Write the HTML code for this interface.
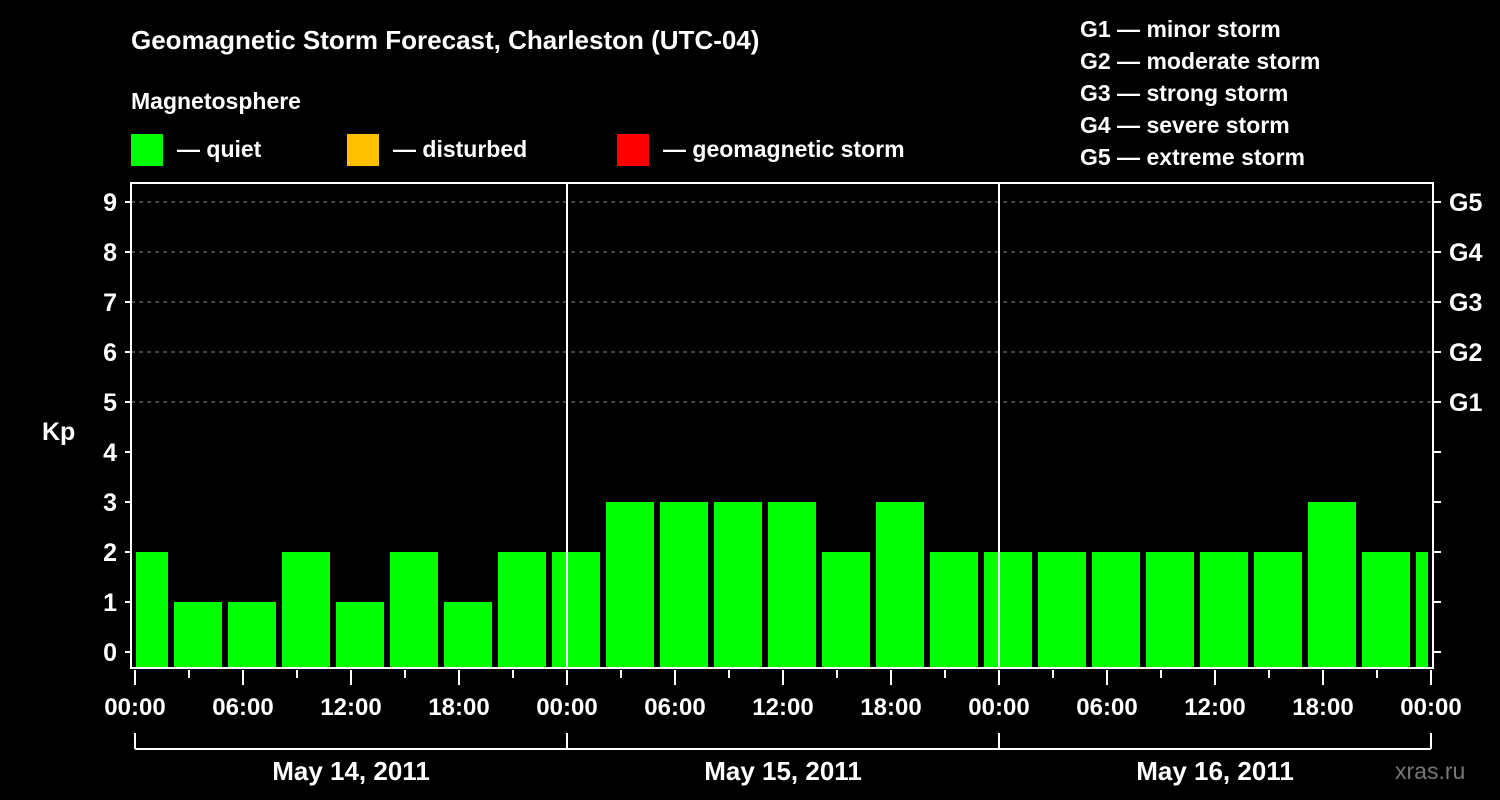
<!DOCTYPE html>
<html><head><meta charset="utf-8"><style>
body{margin:0;background:#000;width:1500px;height:800px;overflow:hidden}
svg{display:block;font-family:"Liberation Sans",sans-serif;font-weight:bold}
</style></head><body>
<svg id="c" width="1500" height="800">
<rect width="1500" height="800" fill="#000"/>
<text x="131" y="49" fill="#fff" font-size="26">Geomagnetic Storm Forecast, Charleston (UTC-04)</text>
<text x="131" y="109" fill="#fff" font-size="23">Magnetosphere</text>
<rect x="131" y="134" width="32" height="32" fill="#00ff00"/>
<text x="177" y="157" fill="#fff" font-size="23">— quiet</text>
<rect x="347" y="134" width="32" height="32" fill="#ffc000"/>
<text x="393" y="157" fill="#fff" font-size="23">— disturbed</text>
<rect x="617" y="134" width="32" height="32" fill="#ff0000"/>
<text x="663" y="157" fill="#fff" font-size="23">— geomagnetic storm</text>
<g fill="#fff" font-size="23">
<text x="1080" y="37">G1 — minor storm</text>
<text x="1080" y="69">G2 — moderate storm</text>
<text x="1080" y="101">G3 — strong storm</text>
<text x="1080" y="133">G4 — severe storm</text>
<text x="1080" y="165">G5 — extreme storm</text>
</g>
<text x="42" y="440" fill="#fff" font-size="25">Kp</text>
<text x="1395" y="779" fill="#777" font-size="23" font-weight="normal">xras.ru</text>
<g id="grid"></g><g id="bars"></g><g id="axes"></g>
</svg>
<script>
const kpValues=[2,1,1,2,1,2,1,2,2,3,3,3,3,2,3,2,2,2,2,2,2,2,3,2,2];
const yTicks=[0,1,2,3,4,5,6,7,8,9];
const gLabels=["G1","G2","G3","G4","G5"];
const timeLabels=["00:00","06:00","12:00","18:00"];
const dayLabels=["May 14, 2011","May 15, 2011","May 16, 2011"];
const NS="http://www.w3.org/2000/svg";
const X0=135,DAY=432,L=131,R=1433,T=183,B=668;
const y=v=>652-50*v;
const xh=h=>X0+h*DAY/24;
function mk(p,t,a,txt){const e=document.createElementNS(NS,t);for(const k in a)e.setAttribute(k,a[k]);if(txt!==undefined)e.textContent=txt;p.appendChild(e);return e;}
const grid=document.getElementById('grid'),bars=document.getElementById('bars'),axes=document.getElementById('axes');
yTicks.forEach(v=>{
 if(v>=5){const g=mk(grid,'line',{x1:L,x2:R,y1:y(v),y2:y(v),stroke:'#888','stroke-dasharray':'4 4'});
 
 }
 const t=mk(axes,'line',{x1:L-6,x2:L,y1:y(v),y2:y(v),stroke:'#fff','stroke-width':2});
 
 
 const rt=mk(axes,'line',{x1:R,x2:R+8,y1:y(v),y2:y(v),stroke:'#fff','stroke-width':2});
 
 
 const l=mk(axes,'text',{x:117,y:y(v)+9,fill:'#fff','font-size':25,'text-anchor':'end'},String(v));
 
 
});
gLabels.forEach((g,i)=>{
 const l=mk(axes,'text',{x:1449,y:y(5+i)+9,fill:'#fff','font-size':25},g);
 
 
});
mk(bars,'clipPath',{id:'clp'}).appendChild(document.createElementNS(NS,'rect'));
const cr=bars.querySelector('clipPath rect');cr.setAttribute('x',136);cr.setAttribute('y',T);cr.setAttribute('width',1428-136);cr.setAttribute('height',B-T);
const bg=mk(bars,'g',{'clip-path':'url(#clp)'});
kpValues.forEach((v,i)=>{
 const c=xh(0.5+3*i);
 const r=mk(bg,'rect',{x:c-24,y:y(v),width:48,height:667-y(v),fill:v>=5?'#ff0000':v>=4?'#ffc000':'#00ff00'});
 
 
});
const fr=mk(axes,'rect',{x:L,y:T,width:R-L,height:B-T,fill:'none',stroke:'#fff','stroke-width':2});


for(let d=1;d<3;d++){const l=mk(axes,'line',{x1:xh(24*d),x2:xh(24*d),y1:T,y2:B,stroke:'#fff','stroke-width':2});
 
 }
for(let h=0;h<=72;h+=3){
 const major=h%6===0;
 const t=mk(axes,'line',{x1:xh(h),x2:xh(h),y1:670,y2:major?685:678,stroke:'#fff','stroke-width':2});
 
 
 if(major){const l=mk(axes,'text',{x:xh(h),y:715,fill:'#fff','font-size':24,'text-anchor':'middle'},timeLabels[(h/6)%4]);
 
 }
}
const br=mk(axes,'line',{x1:xh(0),x2:xh(72),y1:749,y2:749,stroke:'#fff','stroke-width':2});


for(let d=0;d<=3;d++){const l=mk(axes,'line',{x1:xh(24*d),x2:xh(24*d),y1:733,y2:749,stroke:'#fff','stroke-width':2});
 
 }
dayLabels.forEach((s,d)=>{
 const l=mk(axes,'text',{x:xh(24*d+12),y:780,fill:'#fff','font-size':26,'text-anchor':'middle'},s);
 
 
});
</script>
</body></html>
